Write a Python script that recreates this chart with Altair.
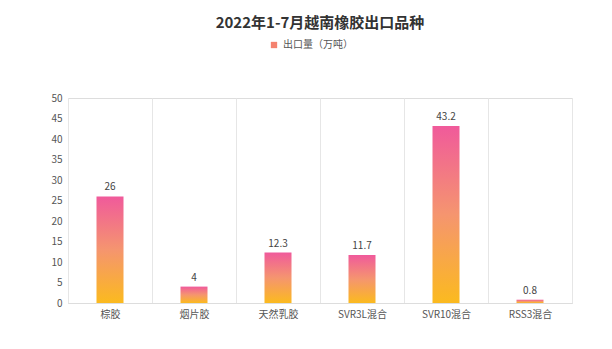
import altair as alt
import pandas as pd

categories = ["棕胶", "烟片胶", "天然乳胶", "SVR3L混合", "SVR10混合", "RSS3混合"]
values = [26, 4, 12.3, 11.7, 43.2, 0.8]
series_name = "出口量（万吨）"
y_ticks = [0, 5, 10, 15, 20, 25, 30, 35, 40, 45, 50]

df = pd.DataFrame({"cat": categories, "val": values, "series": [series_name] * len(categories)})

FONT = "Noto Sans CJK SC"
grad = {
    "gradient": "linear",
    "x1": 0, "x2": 0, "y1": 0, "y2": 1,
    "stops": [
        {"offset": 0, "color": "#f05a9b"},
        {"offset": 0.5, "color": "#f5956f"},
        {"offset": 1, "color": "#fbba1f"},
    ],
}

x = alt.X(
    "cat:N", sort=categories, title=None,
    scale=alt.Scale(paddingInner=0, paddingOuter=0),
    axis=alt.Axis(labelAngle=0, tickBand="extent", grid=True, gridColor="#e6e6e6",
                  ticks=False, domainColor="#dddddd", labelColor="#555555",
                  labelFontSize=10, labelFont=FONT, labelPadding=6),
)
y = alt.Y(
    "val:Q", title=None,
    scale=alt.Scale(domain=[0, 50], nice=False),
    axis=alt.Axis(values=y_ticks, grid=False, domain=False, ticks=False, labelOverlap=False,
                  labelColor="#555555", labelFontSize=10, labelFont=FONT, labelPadding=6),
)

bars = alt.Chart(df).mark_bar(width=27, color=grad).encode(x=x, y=y)

labels = alt.Chart(df).mark_text(dy=-9, fontSize=10, color="#444444", font=FONT).encode(
    x=x, y=y, text=alt.Text("val:Q")
)

legend_layer = alt.Chart(df).mark_square(opacity=0, size=1).encode(
    x=x,
    y=y,
    color=alt.Color(
        "series:N",
        scale=alt.Scale(range=["#f4826f"]),
        legend=alt.Legend(
            title=None, orient="none", legendX=201, legendY=-58,
            symbolType="square", symbolSize=40, symbolOpacity=1,
            labelFont=FONT, labelFontSize=10, labelColor="#555555",
            symbolStrokeWidth=0,
        ),
    ),
)

chart = (
    alt.layer(bars, labels, legend_layer)
    .properties(
        width=504, height=205,
        padding={"left": 68, "top": 98, "right": 40, "bottom": 46},
        autosize=alt.AutoSizeParams(type="none"),
        title=alt.TitleParams(
            "2022年1-7月越南橡胶出口品种", font=FONT, fontSize=15, fontWeight="bold",
            color="#333333", anchor="middle", offset=9,
        ),
    )
    .configure_view(stroke=None)
    .configure(background="white")
)

chart.save("out.html", embed_options={"renderer": "svg", "actions": False})
